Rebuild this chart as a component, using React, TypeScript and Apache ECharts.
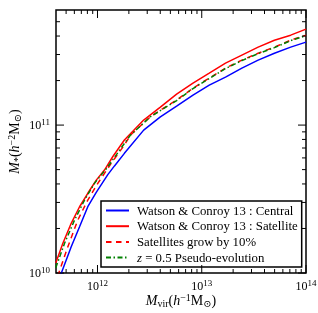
import React, { useEffect, useRef } from 'react';
import * as echarts from 'echarts';

const SERIF = '"Liberation Serif", "DejaVu Serif", serif';

// Series names
const seriesNames = [
  'Watson & Conroy 13 : Central',
  'Watson & Conroy 13 : Satellite',
  'Satellites grow by 10%',
  'z = 0.5 Pseudo-evolution',
];

// log10 Mvir (h^-1 Msun) and log10 Ms (h^-2 Msun)
const centralLogMvir = [11.645, 11.658, 11.748, 11.828, 11.907, 11.988, 12.099, 12.163, 12.258, 12.443, 12.603, 12.759, 12.916, 13.072, 13.228, 13.385, 13.541, 13.697, 13.853, 14.0];
const centralLogMs = [9.98, 10.009, 10.178, 10.313, 10.448, 10.545, 10.665, 10.724, 10.809, 10.966, 11.056, 11.128, 11.203, 11.27, 11.324, 11.385, 11.439, 11.486, 11.527, 11.561];

const satelliteLogMvir = [11.6, 11.668, 11.748, 11.828, 11.907, 11.988, 12.067, 12.146, 12.258, 12.443, 12.603, 12.759, 12.916, 13.072, 13.228, 13.385, 13.541, 13.697, 13.853, 14.0];
const satelliteLogMs = [10.068, 10.201, 10.336, 10.448, 10.539, 10.628, 10.696, 10.786, 10.899, 11.034, 11.122, 11.209, 11.284, 11.351, 11.419, 11.473, 11.527, 11.574, 11.608, 11.649];

const growLogMvir = [11.62, 11.633, 11.716, 11.811, 11.907, 12.003, 12.131, 12.258, 12.316, 12.507, 12.603, 12.759, 12.916, 13.072, 13.228, 13.385, 13.541, 13.697, 13.853, 14.0];
const growLogMs = [9.98, 10.009, 10.178, 10.358, 10.493, 10.606, 10.741, 10.865, 10.932, 11.056, 11.101, 11.169, 11.25, 11.318, 11.385, 11.439, 11.486, 11.527, 11.574, 11.608];

const pseudoLogMvir = [11.6, 11.684, 11.78, 11.876, 11.971, 12.099, 12.258, 12.316, 12.507, 12.603, 12.759, 12.916, 13.072, 13.228, 13.385, 13.541, 13.697, 13.853, 14.0];
const pseudoLogMs = [10.035, 10.201, 10.358, 10.493, 10.606, 10.718, 10.876, 10.932, 11.056, 11.098, 11.166, 11.247, 11.315, 11.382, 11.436, 11.483, 11.524, 11.571, 11.605];

// Axis ranges and ticks
const xMin = 4e11;
const xMax = 1e14;
const yMin = 1e10;
const yMax = 6e11;
const xTickExponents = [12, 13, 14];
const yTickExponents = [10, 11];
const xMinorTicks = [5e11, 6e11, 7e11, 8e11, 9e11, 2e12, 3e12, 4e12, 5e12, 6e12, 7e12, 8e12, 9e12, 2e13, 3e13, 4e13, 5e13, 6e13, 7e13, 8e13, 9e13];
const yMinorTicks = [2e10, 3e10, 4e10, 5e10, 6e10, 7e10, 8e10, 9e10, 2e11, 3e11, 4e11, 5e11];

const toPts = (xs: number[], ys: number[]) => xs.map((x, i) => [Math.pow(10, x), Math.pow(10, ys[i])]);

const labelRich = {
  b: { fontFamily: SERIF, fontSize: 12, color: '#000', lineHeight: 16 },
  s: { fontFamily: SERIF, fontSize: 9, color: '#000', lineHeight: 6, verticalAlign: 'top' },
};

const tickFormatter = (exps: number[]) => (v: number) => {
  const l = Math.log10(v);
  const e = Math.round(l);
  if (Math.abs(l - e) > 1e-6 || exps.indexOf(e) < 0) return '';
  return `{b|10}{s|${e}}`;
};

const nameRich = {
  i: { fontFamily: SERIF, fontSize: 14, fontStyle: 'italic', color: '#000', lineHeight: 16 },
  n: { fontFamily: SERIF, fontSize: 14, color: '#000', lineHeight: 16 },
  sub: { fontFamily: SERIF, fontSize: 10, color: '#000', lineHeight: 10, verticalAlign: 'bottom' },
  sup: { fontFamily: SERIF, fontSize: 10, color: '#000', lineHeight: 6, verticalAlign: 'top' },
};

export default function App() {
  const ref = useRef<HTMLDivElement>(null);
  useEffect(() => {
    const chart = echarts.init(ref.current!, undefined, { renderer: 'svg' });
    const X0 = 56, X1 = 306, Y0 = 10, Y1 = 273;
    chart.setOption({
      animation: false,
      grid: { left: X0, top: Y0, width: X1 - X0, height: Y1 - Y0, show: true, borderColor: '#000', borderWidth: 1.5, backgroundColor: 'transparent', containLabel: false, outerBoundsMode: 'none' },
      xAxis: {
        type: 'log', logBase: 10, min: xMin, max: xMax,
        axisLine: { show: false }, axisTick: { show: false }, splitLine: { show: false },
        axisLabel: { formatter: tickFormatter(xTickExponents), margin: 5, rich: labelRich, showMinLabel: true, showMaxLabel: true, hideOverlap: false },
        name: '{i|M}{sub|vir}{n|(}{i|h}{sup|−1}{n|M}{sub|⊙}{n|)}',
        nameLocation: 'middle', nameGap: 19, nameMoveOverlap: false,
        nameTextStyle: { rich: nameRich },
      },
      yAxis: {
        type: 'log', logBase: 10, min: yMin, max: yMax,
        axisLine: { show: false }, axisTick: { show: false }, splitLine: { show: false },
        axisLabel: { formatter: tickFormatter(yTickExponents), margin: 6, rich: labelRich, showMinLabel: true, showMaxLabel: true, hideOverlap: false },
        name: '{i|M}{sub|*}{n|(}{i|h}{sup|−2}{n|M}{sub|⊙}{n|)}',
        nameLocation: 'middle', nameGap: 34, nameRotate: 90, nameMoveOverlap: false,
        nameTextStyle: { rich: nameRich },
      },
      legend: {
        left: 101, top: 201, orient: 'vertical',
        itemWidth: 23, itemHeight: 10, itemGap: 2.7,
        padding: [3, 4, 3, 4],
        borderColor: '#000', borderWidth: 1.5, backgroundColor: '#fff', borderRadius: 0,
        selectedMode: false,
        itemStyle: { opacity: 0 },
        data: seriesNames,
        textStyle: {
          fontFamily: SERIF, fontSize: 12.8, color: '#000', lineHeight: 13, padding: [0, 0, 0, 3],
          rich: { i: { fontFamily: SERIF, fontSize: 12.8, fontStyle: 'italic', color: '#000', lineHeight: 13 } },
        },
        formatter: (name: string) => (name === seriesNames[3] ? '{i|z} = 0.5 Pseudo-evolution' : name),
      },
      series: [
        { type: 'line', name: seriesNames[0], data: toPts(centralLogMvir, centralLogMs), symbol: 'none', clip: true, silent: true, lineStyle: { color: '#0000ff', width: 1.5 }, itemStyle: { color: '#0000ff' } },
        { type: 'line', name: seriesNames[1], data: toPts(satelliteLogMvir, satelliteLogMs), symbol: 'none', clip: true, silent: true, lineStyle: { color: '#ff0000', width: 1.5 }, itemStyle: { color: '#ff0000' } },
        { type: 'line', name: seriesNames[2], data: toPts(growLogMvir, growLogMs), symbol: 'none', clip: true, silent: true, lineStyle: { color: '#ff0000', width: 1.5, type: [5.5, 4.5] }, itemStyle: { color: '#ff0000' } },
        { type: 'line', name: seriesNames[3], data: toPts(pseudoLogMvir, pseudoLogMs), symbol: 'none', clip: true, silent: true, lineStyle: { color: '#008000', width: 1.5, type: [5, 2.5, 1.5, 2.5] }, itemStyle: { color: '#008000' } },
      ],
    });

    const g: any[] = [];
    const seg = (x1: number, y1: number, x2: number, y2: number) => ({
      type: 'line', silent: true, z: 5,
      shape: { x1, y1, x2, y2 },
      style: { stroke: '#000', lineWidth: 1 },
    });
    const xPx = (v: number) => chart.convertToPixel({ xAxisIndex: 0 }, v) as number;
    const yPx = (v: number) => chart.convertToPixel({ yAxisIndex: 0 }, v) as number;
    const MAJ = 8, MIN = 4;
    xTickExponents.forEach((e) => {
      const p = xPx(Math.pow(10, e));
      g.push(seg(p, Y1, p, Y1 - MAJ), seg(p, Y0, p, Y0 + MAJ));
    });
    xMinorTicks.forEach((v) => {
      const p = xPx(v);
      g.push(seg(p, Y1, p, Y1 - MIN), seg(p, Y0, p, Y0 + MIN));
    });
    yTickExponents.forEach((e) => {
      const p = yPx(Math.pow(10, e));
      g.push(seg(X0, p, X0 + MAJ, p), seg(X1, p, X1 - MAJ, p));
    });
    yMinorTicks.forEach((v) => {
      const p = yPx(v);
      g.push(seg(X0, p, X0 + MIN, p), seg(X1, p, X1 - MIN, p));
    });
    chart.setOption({ graphic: g });

    return () => chart.dispose();
  }, []);
  return <div ref={ref} style={{ position: 'fixed', left: 0, top: 0, width: 318, height: 313 }} />;
}
